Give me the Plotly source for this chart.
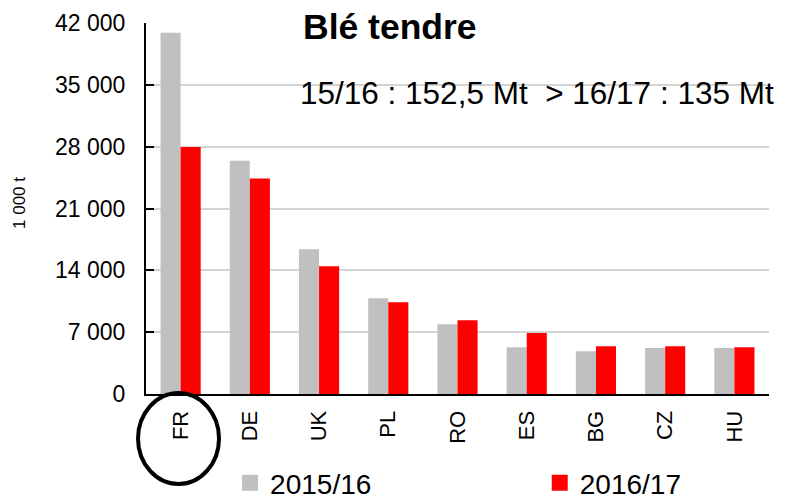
import plotly.graph_objects as go

countries = ["FR", "DE", "UK", "PL", "RO", "ES", "BG", "CZ", "HU"]
prod_2015_16 = [40900, 26400, 16400, 10850, 7900, 5300, 4850, 5200, 5200]
prod_2016_17 = [27950, 24400, 14450, 10400, 8350, 6900, 5400, 5400, 5300]
season_names = ["2015/16", "2016/17"]
season_colors = ["#c0c0c0", "#ff0000"]
y_ticks = [0, 7000, 14000, 21000, 28000, 35000, 42000]
y_tick_labels = ["0", "7 000", "14 000", "21 000", "28 000", "35 000", "42 000"]

FONT = "Liberation Sans, Arial, sans-serif"

fig = go.Figure()
for name, color, vals, lg in zip(season_names, season_colors,
                                 [prod_2015_16, prod_2016_17], ["legend", "legend2"]):
    fig.add_trace(go.Bar(x=countries, y=vals, name=name, legendgroup=name,
                         showlegend=False, marker=dict(color=color, line=dict(width=0))))
    # legend entry with a larger square swatch
    fig.add_trace(go.Scatter(x=[None], y=[None], mode="markers", name=name,
                             legendgroup=name, legend=lg,
                             marker=dict(symbol="square", size=16, color=color)))

fig.update_layout(
    width=785, height=498, autosize=False,
    margin=dict(l=138, r=24, t=15, b=112, autoexpand=False),
    paper_bgcolor="white", plot_bgcolor="white",
    barmode="group", bargap=0.42, bargroupgap=0,
    font=dict(family=FONT, color="black"),
    xaxis=dict(
        range=[-0.5, len(countries) - 0.5], type="category",
        showline=True, linecolor="black", linewidth=2, automargin=False,
        tickangle=-90, tickfont=dict(size=22, family=FONT),
        ticks="", ticklabelstandoff=6, showgrid=False,
    ),
    yaxis=dict(
        range=[0, 42000], tickvals=y_ticks, ticktext=y_tick_labels,
        showline=True, linecolor="black", linewidth=2, automargin=False,
        ticks="inside", ticklen=8, tickcolor="black", tickwidth=2,
        tickfont=dict(size=23, family=FONT), ticklabelstandoff=14,
        showgrid=True, gridcolor="#d4d4d4", gridwidth=2,
        zeroline=False,
    ),
    legend=dict(orientation="h", x=0.135, xanchor="left", yref="container", y=0.046,
                yanchor="middle", itemsizing="trace",
                font=dict(size=28, family=FONT), bgcolor="rgba(0,0,0,0)"),
    legend2=dict(orientation="h", x=0.632, xanchor="left", yref="container", y=0.046,
                 yanchor="middle", itemsizing="trace",
                 font=dict(size=28, family=FONT), bgcolor="rgba(0,0,0,0)"),
    showlegend=True,
)

fig.add_annotation(text="1 000 t", xref="paper", yref="paper", x=-0.2022, y=0.515,
                   xanchor="center", yanchor="middle", textangle=-90, showarrow=False,
                   font=dict(size=17, family=FONT, color="black"))
fig.add_annotation(text="<b>Blé tendre</b>", xref="paper", yref="paper",
                   x=0.248, y=0.99, xanchor="left", yanchor="middle", showarrow=False,
                   font=dict(size=35.5, family=FONT, color="black"))
fig.add_annotation(text="15/16 : 152,5 Mt&nbsp; &gt; 16/17 : 135 Mt", xref="paper", yref="paper",
                   x=0.244, y=0.811, xanchor="left", yanchor="middle", showarrow=False,
                   font=dict(size=31.5, family=FONT, color="black"))

# highlight ellipse around the FR category label
fig.add_shape(type="circle", xref="paper", yref="paper",
              x0=-0.0128, x1=0.1172, y0=-0.2426, y1=0.0027,
              line=dict(color="black", width=4))

fig.write_html("out.html")
